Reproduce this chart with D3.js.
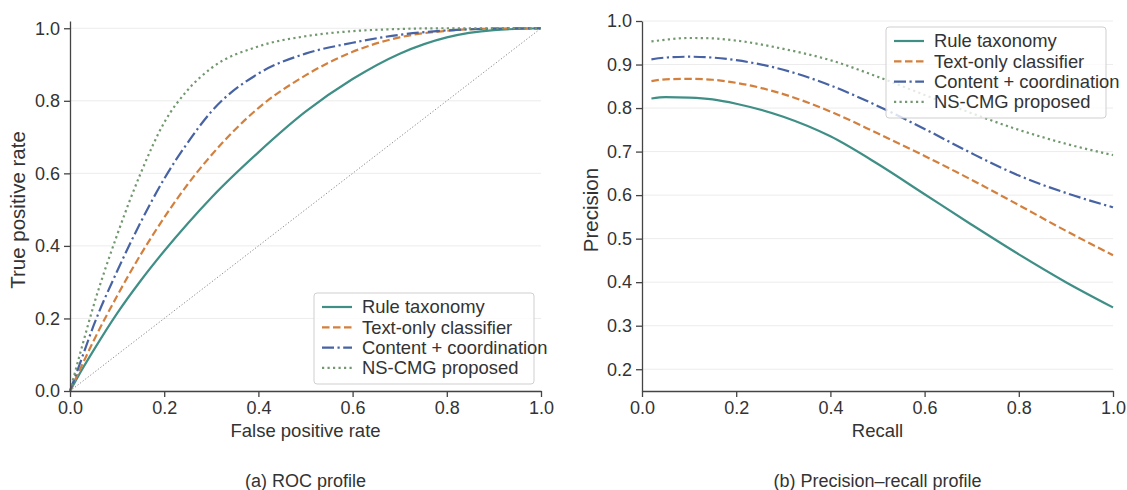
<!DOCTYPE html>
<meta charset="utf-8">
<style>
body { margin: 0; background: #fff; }
text { font-family: "Liberation Sans", Arial, sans-serif; fill: #333; }
.grid line { stroke: #ececec; stroke-width: 1px; }
.axis path, .axis line { stroke: #444; stroke-width: 1.3px; }
.axis text { font-size: 18px; fill: #333; }
.curve { fill: none; stroke-width: 2.2px; }
.legendBox { fill: #fff; fill-opacity: 0.8; stroke: #cfcfcf; stroke-width: 1px; }
</style>
<div id="chart"></div>
<script src="https://cdn.jsdelivr.net/npm/d3@7"></script>
<script>

// ROC panel data (false positive rate -> true positive rate)
const rocFpr     = [0, 0.025, 0.05, 0.1, 0.15, 0.2, 0.25, 0.3, 0.4, 0.5, 0.6, 0.7, 0.8, 0.9, 1.0];
const rocRule    = [0, 0.058, 0.112, 0.214, 0.304, 0.386, 0.462, 0.533, 0.658, 0.77, 0.86, 0.93, 0.975, 0.995, 1];
const rocText    = [0, 0.07, 0.138, 0.262, 0.376, 0.478, 0.57, 0.65, 0.78, 0.87, 0.935, 0.975, 0.993, 0.999, 1];
const rocContent = [0, 0.09, 0.18, 0.33, 0.465, 0.585, 0.685, 0.77, 0.875, 0.93, 0.96, 0.982, 0.994, 0.999, 1];
const rocNs      = [0, 0.12, 0.235, 0.43, 0.6, 0.74, 0.83, 0.89, 0.95, 0.978, 0.992, 0.998, 1, 1, 1];
const chanceLine = [0, 1];

// PR panel data (recall -> precision)
const prRecall  = [0.02, 0.05, 0.1, 0.15, 0.2, 0.3, 0.4, 0.5, 0.6, 0.7, 0.8, 0.9, 1.0];
const prRule    = [0.822, 0.825, 0.824, 0.82, 0.81, 0.78, 0.735, 0.672, 0.602, 0.532, 0.464, 0.4, 0.342];
const prText    = [0.862, 0.866, 0.867, 0.865, 0.858, 0.832, 0.792, 0.742, 0.69, 0.635, 0.577, 0.518, 0.462];
const prContent = [0.912, 0.916, 0.918, 0.916, 0.91, 0.888, 0.852, 0.805, 0.752, 0.696, 0.645, 0.605, 0.572];
const prNs      = [0.953, 0.957, 0.961, 0.96, 0.955, 0.936, 0.91, 0.872, 0.83, 0.788, 0.75, 0.718, 0.692];

const seriesNames = ["Rule taxonomy", "Text-only classifier", "Content + coordination", "NS-CMG proposed"];
const xTicks = [0, 0.2, 0.4, 0.6, 0.8, 1.0];
const rocYTicks = [0, 0.2, 0.4, 0.6, 0.8, 1.0];
const prYTicks = [0.2, 0.3, 0.4, 0.5, 0.6, 0.7, 0.8, 0.9, 1.0];

const styles = [
    { color: "#3f8f86", dash: null },
    { color: "#d3803e", dash: "7.5,3.5" },
    { color: "#4763a3", dash: "12,3.5,2.2,3.5" },
    { color: "#72986f", dash: "2.2,3.3" }
];

const svg = d3.select("#chart").append("svg")
    .attr("width", 1127)
    .attr("height", 490);

function drawPanel(opt) {
    const x = d3.scaleLinear().domain([0, 1]).range(opt.xRange);
    const y = d3.scaleLinear().domain(opt.yDomain).range([391, 21]);
    const g = svg.append("g");

    g.append("g").attr("class", "grid")
        .selectAll("line").data(opt.yTicks).enter().append("line")
        .attr("x1", opt.xRange[0]).attr("x2", opt.xRange[1])
        .attr("y1", d => y(d)).attr("y2", d => y(d));

    if (opt.chance) {
        g.append("path")
            .datum(opt.chance)
            .attr("fill", "none")
            .attr("stroke", "#888")
            .attr("stroke-width", 1)
            .attr("stroke-dasharray", "1.2,2")
            .attr("d", d3.line().x(d => x(d)).y(d => y(d)));
    }

    const line = d3.line()
        .x(d => x(d[0])).y(d => y(d[1]))
        .curve(d3.curveMonotoneX);

    opt.series.forEach((vals, i) => {
        g.append("path")
            .datum(opt.xs.map((v, j) => [v, vals[j]]))
            .attr("class", "curve")
            .attr("stroke", styles[i].color)
            .attr("stroke-dasharray", styles[i].dash)
            .attr("d", line);
    });

    g.append("g").attr("class", "axis")
        .attr("transform", "translate(0,391)")
        .call(d3.axisBottom(x).tickValues(xTicks).tickFormat(d3.format(".1f"))
            .tickSize(6).tickPadding(4).tickSizeOuter(0));

    g.append("g").attr("class", "axis")
        .attr("transform", `translate(${opt.xRange[0]},0)`)
        .call(d3.axisLeft(y).tickValues(opt.yTicks).tickFormat(d3.format(".1f"))
            .tickSize(6).tickPadding(4).tickSizeOuter(0));

    const cx = (opt.xRange[0] + opt.xRange[1]) / 2;
    g.append("text")
        .attr("x", cx).attr("y", 437)
        .attr("text-anchor", "middle")
        .style("font-size", "18.5px")
        .text(opt.xLabel);

    g.append("text")
        .attr("transform", `translate(${opt.yLabelX},210) rotate(-90)`)
        .attr("text-anchor", "middle")
        .style("font-size", "20.5px")
        .text(opt.yLabel);

    g.append("text")
        .attr("x", cx).attr("y", 487)
        .attr("text-anchor", "middle")
        .style("font-size", "18px")
        .text(opt.caption);

    // legend
    const lg = g.append("g").attr("transform", `translate(${opt.legend[0]},${opt.legend[1]})`);
    lg.append("rect").attr("class", "legendBox")
        .attr("width", 220).attr("height", 91).attr("rx", 3);
    seriesNames.forEach((name, i) => {
        const ry = 14 + i * 20.3;
        lg.append("line")
            .attr("x1", 8).attr("x2", 38)
            .attr("y1", ry).attr("y2", ry)
            .attr("stroke", styles[i].color)
            .attr("stroke-width", 2.2)
            .attr("stroke-dasharray", styles[i].dash);
        lg.append("text")
            .attr("x", 48).attr("y", ry)
            .attr("dy", "0.35em")
            .style("font-size", "18.4px")
            .text(name);
    });
}

drawPanel({
    xRange: [70, 541],
    yDomain: [0, 1.02],
    yTicks: rocYTicks,
    xs: rocFpr,
    series: [rocRule, rocText, rocContent, rocNs],
    chance: chanceLine,
    xLabel: "False positive rate",
    yLabel: "True positive rate",
    yLabelX: 25,
    caption: "(a) ROC profile",
    legend: [314, 293]
});

drawPanel({
    xRange: [642, 1113],
    yDomain: [0.15, 1.0],
    yTicks: prYTicks,
    xs: prRecall,
    series: [prRule, prText, prContent, prNs],
    chance: null,
    xLabel: "Recall",
    yLabel: "Precision",
    yLabelX: 598,
    caption: "(b) Precision\u2013recall profile",
    legend: [886, 27]
});

</script>
